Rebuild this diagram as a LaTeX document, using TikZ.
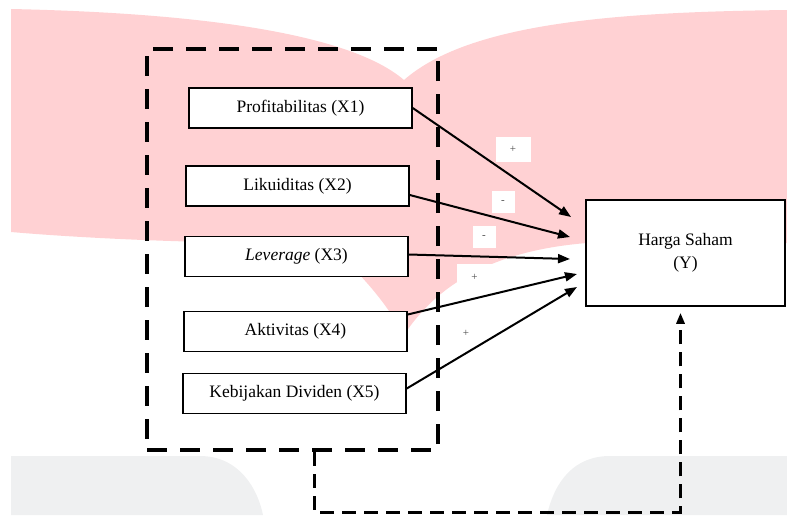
\documentclass[tikz,border=0pt]{standalone}
\usepackage{fontspec}
\setmainfont{Liberation Serif}
\usetikzlibrary{arrows.meta,positioning}
\definecolor{ink}{HTML}{000000}
\definecolor{blush}{HTML}{FFD1D3}
\definecolor{mist}{HTML}{EFF0F1}
\definecolor{graphite}{HTML}{4A4A4A}

\begin{document}
\begin{tikzpicture}[x=1pt,y=-1pt,font=\fontsize{17.5}{23}\selectfont,
    var/.style={draw=ink,line width=1.5pt,fill=white,minimum width=223pt,
                minimum height=40pt,inner sep=0pt,anchor=center},
    grpbox/.style={draw=ink,line width=4.5pt,dash pattern=on 20pt off 13pt,
                   minimum width=291pt,minimum height=401pt,inner sep=0pt},
    link/.style={draw=ink,line width=2pt,-{Triangle[length=12pt,width=9pt]}},
    back/.style={draw=ink,line width=3pt,dash pattern=on 14pt off 8pt,
                 -{Triangle[length=11pt,width=8pt]}},
    sign/.style={fill=white,text=graphite,font=\fontsize{11}{11}\selectfont,
                 inner sep=0pt}]
  \useasboundingbox (0,0) rectangle (787,515);
  \fill[blush] (11,9) .. controls (150,12) and (340,25) .. (404,80)
    .. controls (470,22) and (620,12) .. (787,10) -- (787,243) -- (587,243)
    .. controls (500,250) and (440,280) .. (404,335)
    .. controls (385,300) and (350,260) .. (322,243)
    .. controls (200,244) and (80,238) .. (11,232) -- cycle;
  \fill[mist] (11,456) -- (200,456) .. controls (240,456) and (258,490) .. (263,515)
    -- (11,515) -- cycle;
  \fill[mist] (547,515) .. controls (555,480) and (575,456) .. (610,456)
    -- (787,456) -- (787,515) -- cycle;
  \node[grpbox] (grp) at (292.5,249.5) {};
  \node[var] (x1) at (300.5,108) {Profitabilitas (X1)};
  \node[var] (x2) at (297.5,186) {Likuiditas (X2)};
  \node[var] (x3) at (296.5,256.5) {\textit{Leverage} (X3)};
  \node[var] (x4) at (295.5,331.5) {Aktivitas (X4)};
  \node[var] (x5) at (294.5,393.5) {Kebijakan Dividen (X5)};
  \node[var,minimum width=199pt,minimum height=106pt,align=center] (hy)
    at (685.5,253) {Harga Saham\\(Y)};
  \coordinate (t1) at (571,217);
  \coordinate (t2) at (570,237);
  \coordinate (t3) at (570,259);
  \coordinate (t4) at (577,274);
  \coordinate (t5) at (577,287);
  \draw[link] (x1.east) -- (t1);
  \draw[link] ([yshift=-9pt]x2.east) -- (t2);
  \draw[link] ([yshift=2pt]x3.east) -- (t3);
  \draw[link] ([yshift=17pt]x4.east) -- (t4);
  \draw[link] ([yshift=5pt]x5.east) -- (t5);
  \node[sign,minimum width=35pt,minimum height=25pt] (s1) at (513,149) {+};
  \node[sign,minimum width=23pt,minimum height=22pt] (s2) at (503,202) {-};
  \node[sign,minimum width=23pt,minimum height=22pt] (s3) at (484,237) {-};
  \node[sign,minimum width=35pt,minimum height=26pt] (s4) at (474.5,277) {+};
  \node[sign] (s5) at (466,333) {+};
  \coordinate (turn) at (314,512);
  \draw[back] ([xshift=21.5pt]grp.south) -- (turn)
    -| ([xshift=-5pt,yshift=-6pt]hy.south);
\end{tikzpicture}
\end{document}
